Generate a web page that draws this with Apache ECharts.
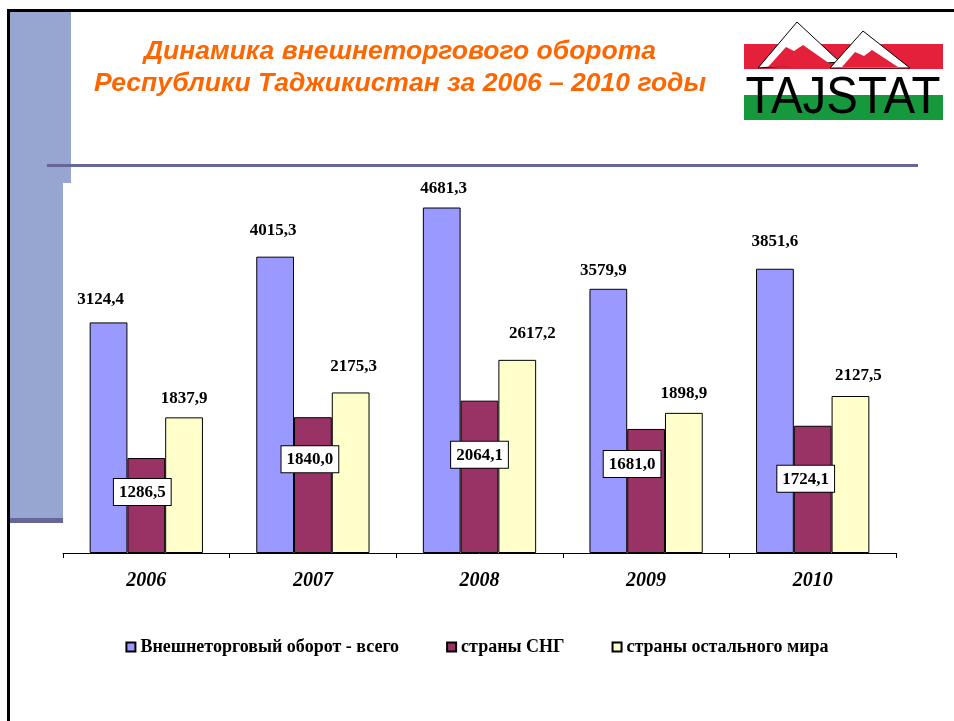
<!DOCTYPE html>
<html lang="ru">
<head>
  <meta charset="UTF-8">
  <title>Динамика внешнеторгового оборота</title>
  <script src="https://cdn.jsdelivr.net/npm/echarts@6/dist/echarts.min.js"></script>
  <style>
    html, body { margin: 0; padding: 0; background: #fff; }
  </style>
</head>
<body>
  <div id="main" style="width: 954px;height:721px;"></div>

  <script type="text/javascript">
  // values, млн. долл. США
  var years = ['2006', '2007', '2008', '2009', '2010'];
  var totalTrade = [3124.4, 4015.3, 4681.3, 3579.9, 3851.6];
  var cisTrade = [1286.5, 1840.0, 2064.1, 1681.0, 1724.1];
  var otherTrade = [1837.9, 2175.3, 2617.2, 1898.9, 2127.5];
  var seriesNames = ['Внешнеторговый оборот - всего', 'страны СНГ', 'страны остального мира'];

  // hand placed labels in the original slide
  var totalLift = [23, 27, 19, 19, 28];
  var totalShift = [-8, -2, 2, -5, 0];
  var otherLift = [19, 26, 27, 20, 21];
  var otherShift = [0, 3, 15, 0, 8];
  var cisDrop = [34, 42, 54, 35, 53];
  var cisShift = [-4, -3, 0, -14, -7];

  var fmt = function (p) { return p.value.toFixed(1).replace('.', ','); };
  var labelFont = { fontFamily: 'Liberation Serif', fontWeight: 'bold', fontSize: 17, color: '#000' };

  var myChart = echarts.init(document.getElementById('main'));

  var option = {
    animation: false,
    backgroundColor: '#fff',
    grid: { left: 63, right: 58, top: 184, bottom: 168 },
    legend: {
      data: seriesNames,
      left: 'center',
      top: 633,
      itemWidth: 9,
      itemHeight: 9,
      itemGap: 47,
      icon: 'rect',
      textStyle: { fontFamily: 'Liberation Serif', fontWeight: 'bold', fontSize: 18, color: '#000' }
    },
    xAxis: {
      type: 'category',
      data: years,
      axisLine: { lineStyle: { color: '#000', width: 1 } },
      axisTick: { show: true, length: 5, lineStyle: { color: '#000' } },
      axisLabel: {
        margin: 18,
        fontFamily: 'Liberation Serif',
        fontWeight: 'bold',
        fontStyle: 'italic',
        fontSize: 20,
        color: '#000'
      }
    },
    yAxis: {
      type: 'value',
      min: 0,
      max: 5000,
      show: false,
      splitLine: { show: false }
    },
    graphic: [
      // slide frame
      { type: 'rect', shape: { x: 7, y: 9, width: 947, height: 3 }, style: { fill: '#000' } },
      { type: 'rect', shape: { x: 7, y: 9, width: 3, height: 712 }, style: { fill: '#000' } },
      { type: 'rect', shape: { x: 10, y: 12, width: 61, height: 171 }, style: { fill: '#96A6D0' } },
      { type: 'rect', shape: { x: 10, y: 183, width: 53, height: 336 }, style: { fill: '#96A6D0' } },
      { type: 'rect', shape: { x: 10, y: 518, width: 53, height: 5 }, style: { fill: '#666699' } },
      { type: 'rect', shape: { x: 47, y: 164, width: 871, height: 3 }, style: { fill: '#666699' } },
      // title
      {
        type: 'text', x: 400, y: 52,
        style: {
          text: 'Динамика внешнеторгового оборота',
          align: 'center', verticalAlign: 'middle',
          font: 'italic bold 26.5px "Liberation Sans", Arial, sans-serif',
          fill: '#FF6600'
        }
      },
      {
        type: 'text', x: 400, y: 84,
        style: {
          text: 'Республики Таджикистан за 2006 – 2010 годы',
          align: 'center', verticalAlign: 'middle',
          font: 'italic bold 26.5px "Liberation Sans", Arial, sans-serif',
          fill: '#FF6600'
        }
      },
      // TAJSTAT logo
      { type: 'rect', shape: { x: 744, y: 44, width: 199, height: 25 }, style: { fill: '#E5203A' } },
      { type: 'rect', shape: { x: 744, y: 95, width: 199, height: 25 }, style: { fill: '#16983D' } },
      {
        type: 'polygon',
        shape: { points: [[758, 68], [797, 22], [840, 62]] },
        style: { fill: '#fff', stroke: '#000', lineWidth: 1 }
      },
      {
        type: 'polygon',
        shape: { points: [[768, 67], [786, 47], [794, 51], [803, 45], [833, 66]] },
        style: { fill: '#E5203A' }
      },
      {
        type: 'polygon',
        shape: { points: [[830, 68], [863, 31], [910, 68]] },
        style: { fill: '#fff', stroke: '#000', lineWidth: 1 }
      },
      {
        type: 'polygon',
        shape: { points: [[842, 67], [855, 52], [864, 56], [872, 50], [898, 67]] },
        style: { fill: '#E5203A' }
      },
      {
        type: 'text', x: 843, y: 99, scaleX: 0.93,
        style: {
          text: 'TAJSTAT',
          align: 'center', verticalAlign: 'middle',
          font: '51px "Liberation Sans", Arial, sans-serif',
          fill: '#000'
        }
      }
    ],
    series: [
      {
        name: seriesNames[0],
        type: 'bar',
        barGap: '0%',
        barCategoryGap: '32%',
        itemStyle: { color: '#9999FF', borderColor: '#000', borderWidth: 1 },
        label: Object.assign({ show: true, position: 'top', formatter: fmt }, labelFont),
        data: totalTrade.map(function (v, i) {
          return { value: v, label: { distance: totalLift[i] - 9, offset: [totalShift[i], 0] } };
        })
      },
      {
        name: seriesNames[1],
        type: 'bar',
        itemStyle: { color: '#993366', borderColor: '#000', borderWidth: 1 },
        label: Object.assign({
          show: true, position: 'insideTop', formatter: fmt,
          backgroundColor: '#fff', borderColor: '#000', borderWidth: 1, padding: [5, 5, 4, 5]
        }, labelFont),
        data: cisTrade.map(function (v, i) {
          return { value: v, label: { distance: cisDrop[i] - 13, offset: [cisShift[i], 0] } };
        })
      },
      {
        name: seriesNames[2],
        type: 'bar',
        itemStyle: { color: '#FFFFCC', borderColor: '#000', borderWidth: 1 },
        label: Object.assign({ show: true, position: 'top', formatter: fmt }, labelFont),
        data: otherTrade.map(function (v, i) {
          return { value: v, label: { distance: otherLift[i] - 9, offset: [otherShift[i], 0] } };
        })
      }
    ]
  };

  myChart.setOption(option);
  </script>
</body>
</html>
